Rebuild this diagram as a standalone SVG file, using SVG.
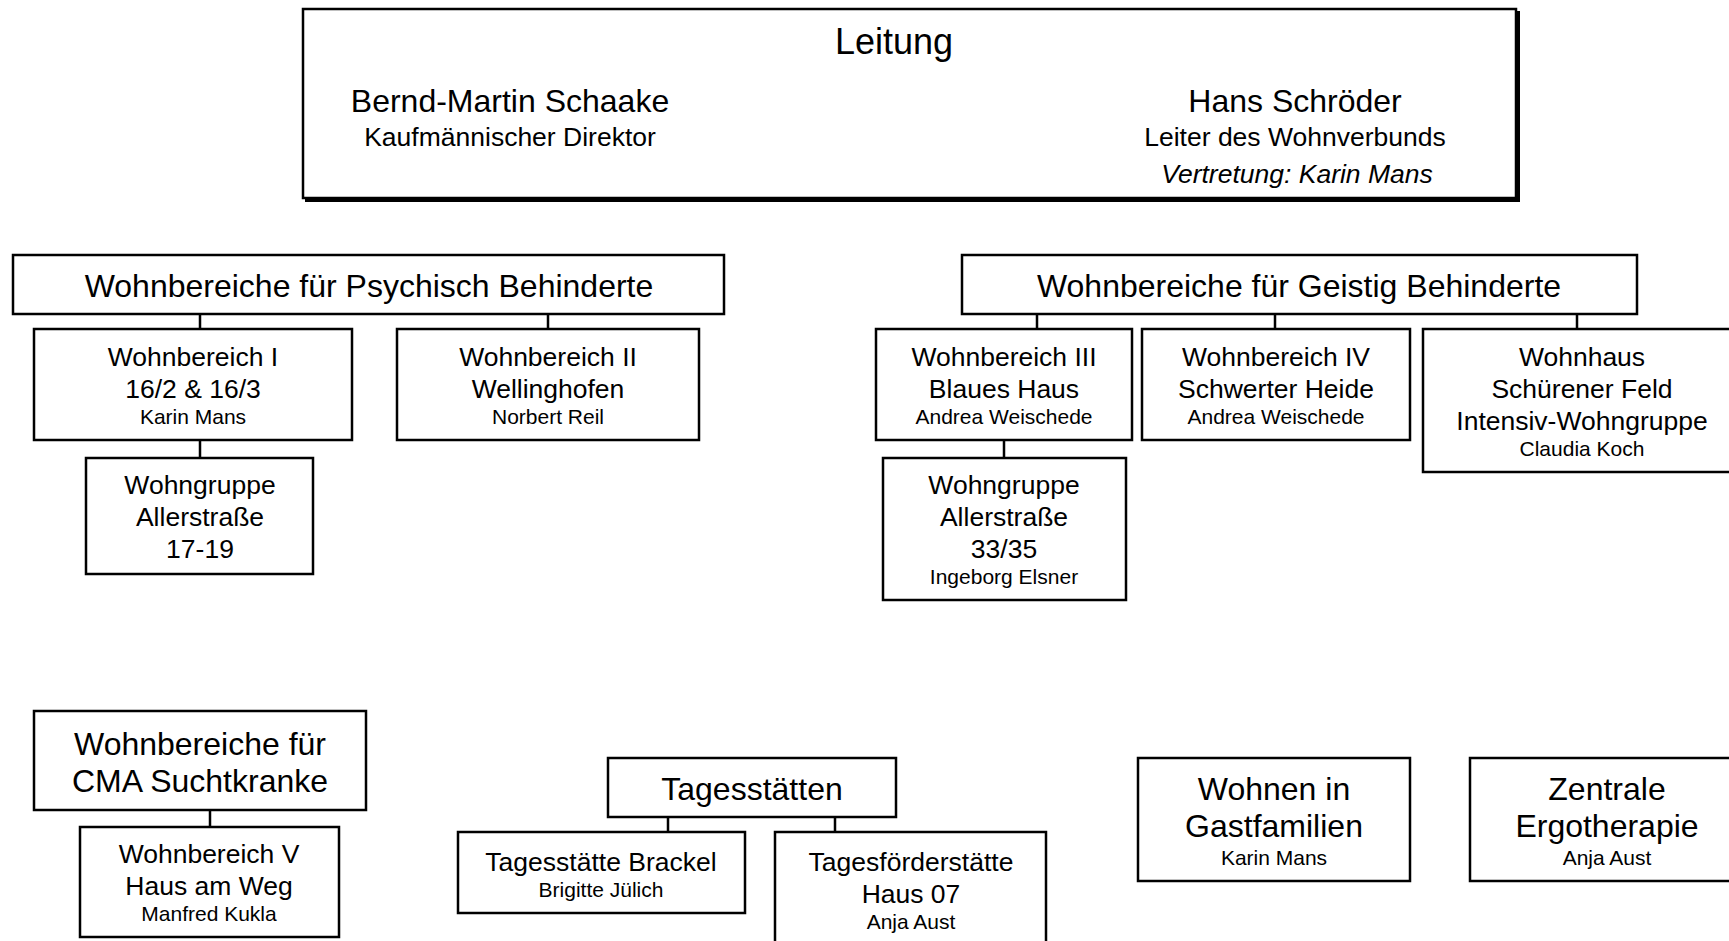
<svg xmlns="http://www.w3.org/2000/svg" width="1729" height="941" viewBox="0 0 1729 941">
<style>
.box{fill:#fff;stroke:#000;stroke-width:2.5}
.ln{stroke:#000;stroke-width:2.5;fill:none}
text{font-family:"Liberation Sans",Arial,sans-serif;fill:#000;text-anchor:middle}
.h{font-size:32px}
.m{font-size:26.5px}
.s{font-size:21px}
.t{font-size:36px}
.i{font-style:italic}
</style>
<rect width="1729" height="941" fill="#fff"/>
<g id="connectors">
<path class="ln" d="M200 314V329M548 314V329M200 440V458"/>
<path class="ln" d="M1037 314V329M1275 314V329M1577 314V329M1004 440V458"/>
<path class="ln" d="M210 810V827"/>
<path class="ln" d="M668 817V832M835 817V832"/>
</g>
<g id="leitung">
<rect x="305" y="11" width="1215" height="191" fill="#000"/>
<rect class="box" x="303" y="9" width="1213" height="189" stroke-width="2"/>
<text class="t" x="894" y="54">Leitung</text>
<text class="h" x="510" y="112">Bernd-Martin Schaake</text>
<text class="m" x="510" y="146">Kaufmännischer Direktor</text>
<text class="h" x="1295" y="112">Hans Schröder</text>
<text class="m" x="1295" y="146">Leiter des Wohnverbunds</text>
<text class="m i" x="1297" y="183">Vertretung: Karin Mans</text>
</g>
<g id="psych">
<rect class="box" x="13" y="255" width="711" height="59"/>
<text class="h" x="369" y="297">Wohnbereiche für Psychisch Behinderte</text>
</g>
<g id="wb1">
<rect class="box" x="34" y="329" width="318" height="111"/>
<text class="m" x="193" y="366">Wohnbereich I</text>
<text class="m" x="193" y="398">16/2 &amp; 16/3</text>
<text class="s" x="193" y="424">Karin Mans</text>
</g>
<g id="wb2">
<rect class="box" x="397" y="329" width="302" height="111"/>
<text class="m" x="548" y="366">Wohnbereich II</text>
<text class="m" x="548" y="398">Wellinghofen</text>
<text class="s" x="548" y="424">Norbert Reil</text>
</g>
<g id="wg1">
<rect class="box" x="86" y="458" width="227" height="116"/>
<text class="m" x="200" y="494">Wohngruppe</text>
<text class="m" x="200" y="526">Allerstraße</text>
<text class="m" x="200" y="558">17-19</text>
</g>
<g id="geistig">
<rect class="box" x="962" y="255" width="675" height="59"/>
<text class="h" x="1299" y="297">Wohnbereiche für Geistig Behinderte</text>
</g>
<g id="wb3">
<rect class="box" x="876" y="329" width="256" height="111"/>
<text class="m" x="1004" y="366">Wohnbereich III</text>
<text class="m" x="1004" y="398">Blaues Haus</text>
<text class="s" x="1004" y="424">Andrea Weischede</text>
</g>
<g id="wb4">
<rect class="box" x="1142" y="329" width="268" height="111"/>
<text class="m" x="1276" y="366">Wohnbereich IV</text>
<text class="m" x="1276" y="398">Schwerter Heide</text>
<text class="s" x="1276" y="424">Andrea Weischede</text>
</g>
<g id="wohnhaus">
<rect class="box" x="1423" y="329" width="318" height="143"/>
<text class="m" x="1582" y="366">Wohnhaus</text>
<text class="m" x="1582" y="398">Schürener Feld</text>
<text class="m" x="1582" y="430">Intensiv-Wohngruppe</text>
<text class="s" x="1582" y="456">Claudia Koch</text>
</g>
<g id="wg2">
<rect class="box" x="883" y="458" width="243" height="142"/>
<text class="m" x="1004" y="494">Wohngruppe</text>
<text class="m" x="1004" y="526">Allerstraße</text>
<text class="m" x="1004" y="558">33/35</text>
<text class="s" x="1004" y="584">Ingeborg Elsner</text>
</g>
<g id="cma">
<rect class="box" x="34" y="711" width="332" height="99"/>
<text class="h" x="200" y="755">Wohnbereiche für</text>
<text class="h" x="200" y="792">CMA Suchtkranke</text>
</g>
<g id="wb5">
<rect class="box" x="80" y="827" width="259" height="110"/>
<text class="m" x="209" y="863">Wohnbereich V</text>
<text class="m" x="209" y="895">Haus am Weg</text>
<text class="s" x="209" y="921">Manfred Kukla</text>
</g>
<g id="tages">
<rect class="box" x="608" y="758" width="288" height="59"/>
<text class="h" x="752" y="800">Tagesstätten</text>
</g>
<g id="brackel">
<rect class="box" x="458" y="832" width="287" height="81"/>
<text class="m" x="601" y="871">Tagesstätte Brackel</text>
<text class="s" x="601" y="897">Brigitte Jülich</text>
</g>
<g id="tfs">
<rect class="box" x="775" y="832" width="271" height="120"/>
<text class="m" x="911" y="871">Tagesförderstätte</text>
<text class="m" x="911" y="903">Haus 07</text>
<text class="s" x="911" y="929">Anja Aust</text>
</g>
<g id="gast">
<rect class="box" x="1138" y="758" width="272" height="123"/>
<text class="h" x="1274" y="800">Wohnen in</text>
<text class="h" x="1274" y="837">Gastfamilien</text>
<text class="s" x="1274" y="865">Karin Mans</text>
</g>
<g id="ergo">
<rect class="box" x="1470" y="758" width="274" height="123"/>
<text class="h" x="1607" y="800">Zentrale</text>
<text class="h" x="1607" y="837">Ergotherapie</text>
<text class="s" x="1607" y="865">Anja Aust</text>
</g>
</svg>
